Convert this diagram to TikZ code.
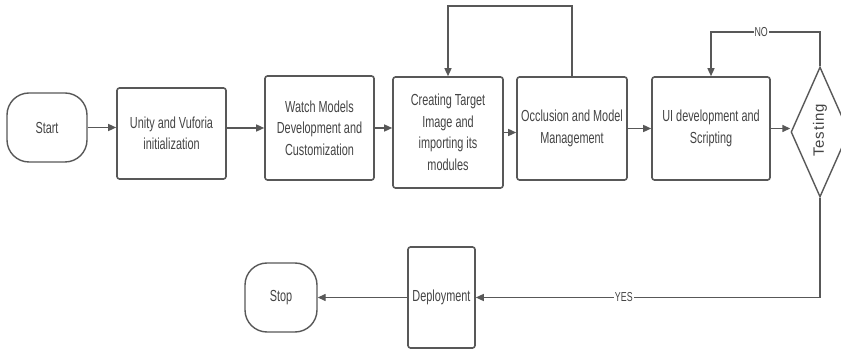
\documentclass[tikz,border=0pt]{standalone}
\usepackage{fontspec}
\setmainfont{Liberation Sans}[FakeStretch=0.68]
\newfontfamily\testfont{Liberation Sans}[LetterSpace=6]
\usetikzlibrary{arrows.meta,shapes.geometric}
\definecolor{linec}{RGB}{88,88,88}
\definecolor{textc}{RGB}{68,68,68}
\begin{document}
\begin{tikzpicture}[x=1pt,y=-1pt,
  box/.style={draw=linec, line width=1.6pt, rounded corners=2.5pt, align=center, inner sep=0pt,
    font=\fontsize{16}{21.5}\selectfont, text=textc},
  term/.style={draw=linec, line width=1.4pt, rounded corners=22pt, inner sep=0pt,
    font=\fontsize{16}{21.5}\selectfont, text=textc},
  arr/.style={draw=linec, line width=1.4pt, -{Triangle[length=8pt,width=7pt]}},
  lbl/.style={fill=white, font=\fontsize{13}{14}\selectfont, inner sep=1pt, text=textc}]
\fill[white] (0,0) rectangle (841,352);
\useasboundingbox (0,0) rectangle (841,352);

\node[term, minimum width=80pt, minimum height=69pt] (start) at (47,127.5) {Start};
\node[box, minimum width=109pt, minimum height=91pt] (unity) at (171.5,133.5) {Unity and Vuforia\\initialization};
\node[box, minimum width=109pt, minimum height=104pt] (watch) at (319.5,128) {Watch Models\\Development and\\Customization};
\node[box, minimum width=110pt, minimum height=111pt] (cre) at (448,132.5) {Creating Target\\Image and\\importing its\\modules};
\node[box, minimum width=110pt, minimum height=103pt] (occ) at (572,128.5) {Occlusion and Model\\Management};
\node[box, minimum width=118pt, minimum height=103pt] (ui) at (711,128.5) {UI development and\\Scripting};
\node[draw=linec, line width=1.4pt, shape=diamond, inner sep=0pt, minimum width=58pt, minimum height=130pt] (tst) at (820,132) {};
\node[rotate=90, text=textc, font=\testfont\fontsize{15}{15}\selectfont, inner sep=0pt] (ttxt) at (820,130.5) {Testing};
\node[box, minimum width=67pt, minimum height=101pt] (dep) at (441.5,297.5) {Deployment};
\node[term, minimum width=72pt, minimum height=69pt] (stop) at (281,297.5) {Stop};

\coordinate (toplev) at (0,6);
\coordinate (nolev) at (0,32);

\draw[arr] (start.east) -- (start.east -| unity.west);
\draw[arr] (unity.east |- watch.west) -- (watch.west);
\draw[arr] (watch.east) -- (watch.east -| cre.west);
\draw[arr] (cre.east) -- (cre.east -| occ.west);
\draw[arr] (occ.east) -- (occ.east -| ui.west);
\draw[arr] (ui.east) -- (ui.east -| tst.west);
\draw[arr] (occ.north) -- (occ.north |- toplev) -| (cre.north);
\draw[arr] (tst.north) -- (tst.north |- nolev) -| node[lbl, pos=0.27] (nolbl) {NO} (ui.north);
\draw[arr] (tst.south) |- node[lbl, pos=0.785] (yeslbl) {YES} (dep.east);
\draw[arr] (dep.west) -- (stop.east);
\end{tikzpicture}
\end{document}
